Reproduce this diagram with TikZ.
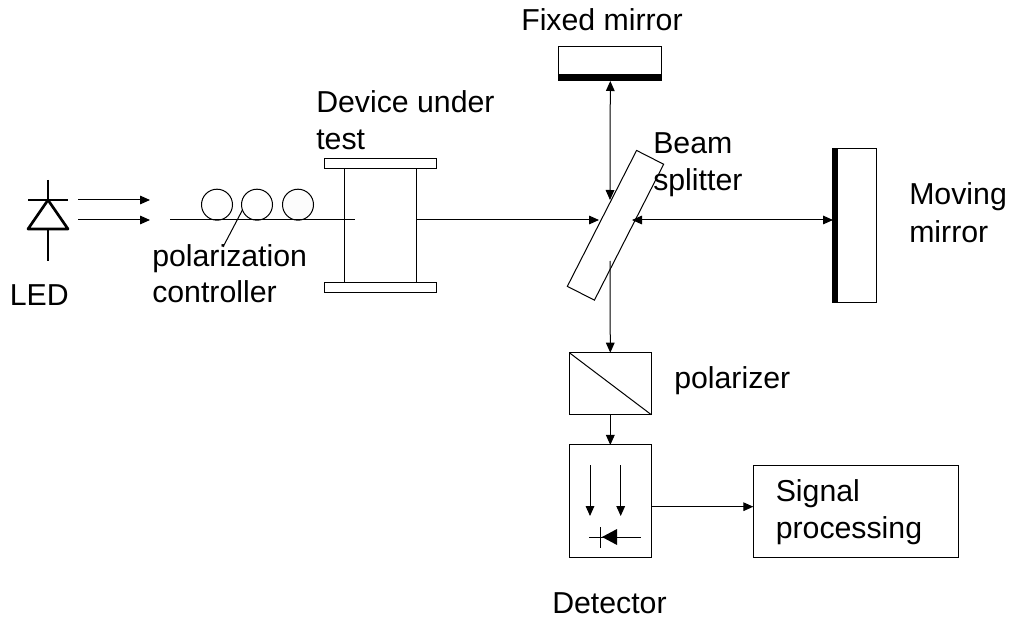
\documentclass[tikz,border=0pt]{standalone}
\usepackage{fontspec}
\setmainfont{Liberation Sans}
\usetikzlibrary{arrows.meta}
\tikzset{
	part/.style={draw, rectangle, inner sep=0pt, outer sep=0pt, line width=.75pt},
	mirrorbar/.style={fill=black, rectangle, inner sep=0pt, outer sep=0pt},
	coil/.style={draw, circle, inner sep=0pt, outer sep=0pt, minimum size=23.25pt, line width=.75pt},
	beam/.style={line width=.75pt, -{Triangle[length=7.5pt,width=6.5pt]}},
	twoway/.style={line width=.75pt, {Triangle[length=7.5pt,width=6.5pt]}-{Triangle[length=7.5pt,width=6.5pt]}},
	wire/.style={line width=.75pt},
	label/.style={anchor=base west, inner sep=0pt, align=left, font=\fontsize{22.7}{27.75}\selectfont}
}
\begin{document}
\begin{tikzpicture}[x=.75pt,y=-.75pt]
	\useasboundingbox (0,0) rectangle (1013,620);

	% LED
	\draw [line width=2pt] (48,180) -- (48,200);
	\draw [line width=2pt] (48,229) -- (48,261);
	\draw [line width=2pt] (28,200) -- (68,200);
	\draw [line width=2pt, line join=round] (48,200) -- (28,229) -- (68,229) -- cycle;
	\coordinate (ledtop) at (78,200);
	\coordinate (ledbot) at (78,220);
	\coordinate (ledtopend) at (150,200);
	\coordinate (ledbotend) at (150,220);
	\draw [beam] (ledtop) -- (ledtopend);
	\draw [beam] (ledbot) -- (ledbotend);
	\node [label] (ledlabel) at (9.5,305) {LED};

	% fibre and polarization controller
	\node [coil] (coila) at (217,204.7) {};
	\node [coil] (coilb) at (257,204.7) {};
	\node [coil, fill=black!1] (coilc) at (298,204.7) {};
	\coordinate (fibrea) at (170,220);
	\coordinate (fibreb) at (355,220);
	\draw [wire] (fibrea) -- (fibreb);
	\coordinate (leader) at (223,247);
	\draw [wire] (coilb.200) -- (leader);
	\node [label] (pclabela) at (152,267) {polarization};
	\node [label] (pclabelb) at (152,302) {controller};

	% device under test
	\node [part, minimum width=84.4pt, minimum height=7.5pt] (duttop) at (380.3,164) {};
	\node [part, minimum width=84.4pt, minimum height=7.5pt] (dutbot) at (380.3,287) {};
	\coordinate (dutlt) at (344.7,169);
	\coordinate (dutlb) at (344.7,282);
	\coordinate (dutrt) at (416,169);
	\coordinate (dutrb) at (416,282);
	\draw [wire] (dutlt) -- (dutlb);
	\draw [wire] (dutrt) -- (dutrb);
	\node [label] (dutlabela) at (316,112.3) {Device under};
	\node [label] (dutlabelb) at (316,149.3) {test};

	% beam splitter
	\node [part, rotate=63, minimum width=114.4pt, minimum height=22.8pt] (splitter) at (615.5,225.3) {};
	\coordinate (dutout) at (416,220);
	\coordinate (splitin) at (599,220);
	\coordinate (splitright) at (632,220);
	\coordinate (splittop) at (610,200);
	\coordinate (splitout) at (610,261);
	\draw [beam] (dutout) -- (splitin);
	\node [label] (splitlabela) at (653,154) {Beam};
	\node [label] (splitlabelb) at (653,190.7) {splitter};

	% fixed mirror
	\node [part, minimum width=77pt, minimum height=25.7pt] (fixedmirror) at (610.3,63.8) {};
	\node [mirrorbar, minimum width=77pt, minimum height=5.25pt] (fixedbar) at (610.3,77.5) {};
	\draw [twoway] (fixedbar.south) -- (splittop);
	\node [label] (fixedlabel) at (521,30.7) {Fixed mirror};

	% moving mirror
	\node [part, minimum width=33pt, minimum height=115pt] (movingmirror) at (854,225.4) {};
	\node [mirrorbar, minimum width=5pt, minimum height=115pt] (movingbar) at (835,225.4) {};
	\coordinate (movingin) at (833,220);
	\draw [twoway] (splitright) -- (movingin);
	\node [label] (movinglabela) at (909,205) {Moving};
	\node [label] (movinglabelb) at (909,242.3) {mirror};

	% polarizer
	\node [part, minimum width=61.5pt, minimum height=46.5pt] (polarizer) at (610.3,383.7) {};
	\draw [wire] (polarizer.north west) -- (polarizer.south east);
	\draw [beam] (splitout) -- (polarizer.north);
	\node [label] (polarizerlabel) at (674,388) {polarizer};

	% detector
	\node [part, minimum width=61.5pt, minimum height=84.5pt] (detector) at (610.3,501.3) {};
	\draw [beam] (polarizer.south) -- (detector.north);
	\draw [beam] (590,465) -- (590,516);
	\draw [beam] (620.7,465) -- (620.7,516);
	\draw [wire] (589,537) -- (641,537);
	\draw [wire] (600,527) -- (600,548);
	\fill (602,537) -- (617,529) -- (617,545) -- cycle;
	\node [label] (detectorlabel) at (552,613.3) {Detector};

	% signal processing
	\node [part, minimum width=153.6pt, minimum height=69pt] (signal) at (855.7,511.7) {};
	\coordinate (detout) at (651.3,506.7);
	\coordinate (sigin) at (753.3,506.7);
	\draw [beam] (detout) -- (sigin);
	\node [label] (signallabela) at (775.5,501.7) {Signal};
	\node [label] (signallabelb) at (775.5,538.3) {processing};
\end{tikzpicture}
\end{document}
